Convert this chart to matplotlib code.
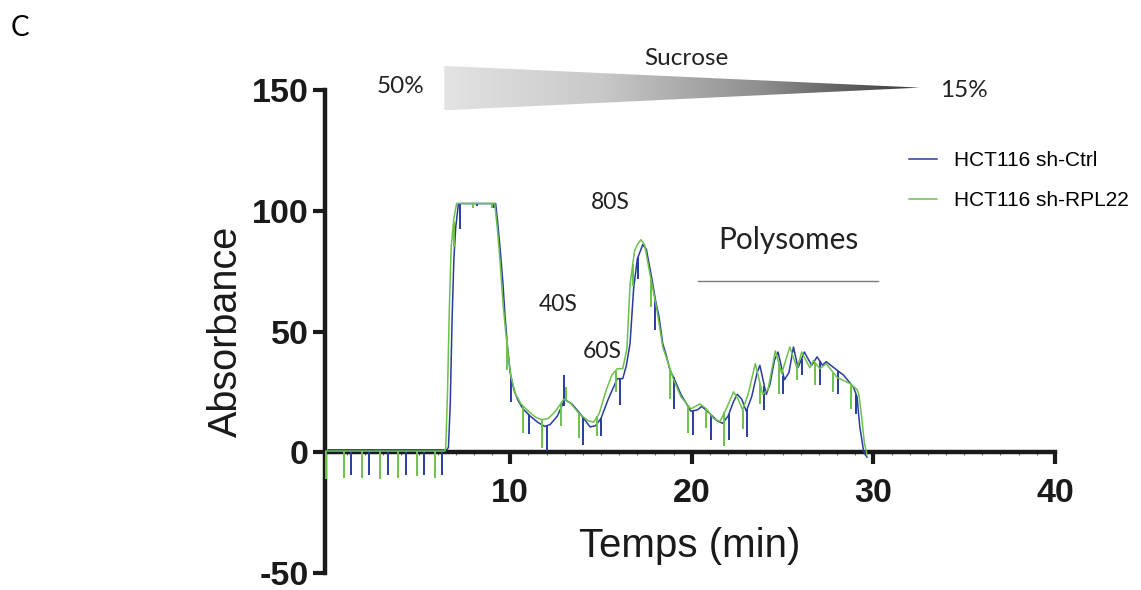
# Polysome profile: HCT116 sh-Ctrl vs sh-RPL22
import numpy as np
import matplotlib
matplotlib.use("Agg")
import matplotlib.pyplot as plt
from matplotlib.colors import LinearSegmentedColormap
from matplotlib.patches import Polygon

plt.rcParams['axes.unicode_minus'] = False

# --- data (time in min, absorbance) ---
ctrl_t = [0.0, 6.5, 6.6, 6.7, 6.8, 6.9, 7.0, 7.15, 9.2, 9.3, 9.45, 9.6, 9.72, 9.85,
          10.0, 10.2, 10.4, 10.7, 11.1, 11.5, 11.9, 12.2, 12.6, 13.0, 13.4, 13.85,
          14.4, 14.7, 15.0, 15.4, 15.9, 16.2, 16.4, 16.6, 16.8, 17.0, 17.3, 17.5,
          17.8, 18.0, 18.2, 18.4, 18.6, 18.8, 19.0, 19.4, 19.95, 20.3, 20.55, 21.0,
          21.4, 21.7, 22.0, 22.3, 22.5, 22.75, 23.0, 23.3, 23.6, 23.75, 24.1, 24.3,
          24.55, 24.75, 25.1, 25.35, 25.6, 25.85, 26.2, 26.6, 26.9, 27.2, 27.4, 28.0,
          28.35, 28.9, 29.1, 29.25, 29.45, 29.55, 29.65]
ctrl_v = [1, 1, 2, 20, 55, 80, 93, 103, 103, 96, 84, 70, 56, 44,
          33, 26, 22, 18, 15, 12.5, 10.7, 11.5, 15, 21.8, 20, 16,
          10.5, 11, 14, 22, 30.5, 30.5, 36, 45, 68, 80, 86, 84,
          72, 63, 56, 45, 40, 34, 31, 24, 17, 17.5, 19, 16,
          13, 12, 15, 21, 24, 22, 17, 23, 33, 36, 24, 28,
          38, 41.5, 30, 33, 43.6, 35, 41.5, 36, 39.5, 36, 37.5, 34,
          32, 27, 23, 10.7, 1, -1, -2]

rpl22_t = [-0.2, 6.4, 6.45, 6.55, 6.65, 6.75, 6.9, 7.05, 9.15, 9.3, 9.45, 9.6, 9.75,
           9.9, 10.05, 10.3, 10.6, 11.0, 11.4, 11.75, 12.1, 12.5, 12.95, 13.3, 13.8,
           14.3, 14.6, 14.9, 15.3, 15.6, 15.9, 16.2, 16.43, 16.6, 16.85, 17.0, 17.2,
           17.4, 17.7, 18.08, 18.4, 18.7, 19.0, 19.4, 19.95, 20.45, 20.8, 21.2, 21.55,
           21.9, 22.3, 22.55, 22.8, 23.1, 23.5, 23.9, 24.2, 24.6, 24.95, 25.4, 25.8,
           26.05, 26.5, 26.7, 27.05, 27.4, 28.0, 28.7, 29.1, 29.2, 29.35, 29.5, 29.65]
rpl22_v = [0.5, 0.5, 2, 25, 60, 85, 97, 103, 103, 92, 78, 62, 50,
           40, 31, 24, 20, 17, 14.5, 13.5, 14, 17, 22, 20.5, 16,
           13, 12.5, 16, 26, 32, 34.6, 34.6, 43, 69.5, 83.5, 86, 88,
           86, 73.7, 59, 43.6, 37, 30, 23, 18, 20, 18, 14, 12.7,
           18, 25, 22, 17.6, 24, 36.7, 24, 26, 42, 32.6, 43.6, 34.6,
           41.5, 35, 38, 34.6, 36.7, 31, 28.5, 26, 24, 15, 4, -1]

# detector spikes: time and end value of each vertical stroke
ctrl_spike_t = [1.25, 2.25, 3.25, 4.25, 5.25, 6.25, 7.25, 8.15, 9.1, 10.05, 11.05,
                12.0, 12.95, 12.95, 14.0, 15.0, 16.05, 17.05, 18.0, 19.0, 20.05,
                21.05, 22.05, 23.05, 24.0, 25.05, 26.05, 27.05, 28.05, 29.05]
ctrl_spike_end = [-9.5, -9.5, -9.5, -9.5, -9.5, -9.5, 92.5, 102, 101, 21, 7.4,
                  0.4, 32, 19, 2.9, 6.6, 19.7, 71.6, 50.6, 18, 7,
                  5, 5, 6.5, 17.5, 24, 32, 28, 24, 16]
rpl22_spike_t = [-0.13, 0.87, 1.86, 2.85, 3.84, 4.87, 5.87, 6.88, 7.95, 9.0, 9.8,
                 10.7, 11.75, 12.8, 13.07, 13.8, 14.8, 15.8, 16.75, 17.75, 18.8,
                 19.8, 20.8, 21.8, 22.8, 23.75, 24.8, 25.8, 26.8, 27.8, 28.75]
rpl22_spike_end = [-11, -10.5, -10.5, -11, -10.5, -10, -10.5, 85, 101, 101, 34,
                   7.8, 1.6, 10.7, 27, 5.8, 6.6, 25, 69, 60, 22,
                   8, 10, 2.5, 9.6, 20, 24, 30, 28, 25, 18]

labels = ['HCT116 sh-Ctrl', 'HCT116 sh-RPL22']
colors = ['#2a3c9c', '#6cc24a']
xticks = [10, 20, 30, 40]
yticks = [-50, 0, 50, 100, 150]

fig = plt.figure(figsize=(11.41, 5.90), dpi=100)
ax = fig.add_axes([0.2848, 0.0288, 0.6398, 0.8186])

series = [(ctrl_t, ctrl_v, ctrl_spike_t, ctrl_spike_end),
          (rpl22_t, rpl22_v, rpl22_spike_t, rpl22_spike_end)]
for (t, v, st, se), lab, col in zip(series, labels, colors):
    ax.plot(t, v, color=col, lw=1.1, label=lab, zorder=3)
    start = np.interp(st, t, v)
    ax.vlines(st, start, se, color=col, lw=1.4, zorder=3)

# sucrose gradient wedge
cmap = LinearSegmentedColormap.from_list('sucrose', ['#e3e3e3', '#c8c8c8', '#8e8e8e', '#383838'])
x0, x1, ybot, ytop, yapex = 6.37, 32.56, 141.6, 160.0, 151.0
im = ax.imshow(np.linspace(0, 1, 256).reshape(1, -1), cmap=cmap, aspect='auto',
               extent=(x0, x1, ybot, ytop), origin='lower', interpolation='bilinear', zorder=1)
wedge = Polygon([[x0, ytop], [x0, ybot], [x1, yapex]], closed=True,
                facecolor='none', edgecolor='none', clip_on=False)
ax.add_patch(wedge)
im.set_clip_path(wedge)
im.set_clip_box(fig.bbox)

ann = dict(family='Lato', color='#222222', ha='center', va='center')
ax.text(19.69, 163, 'Sucrose', fontsize=17.5, clip_on=False, **ann)
ax.text(3.94, 151.4, '50%', fontsize=17.5, clip_on=False, **ann)
ax.text(35.0, 149.8, '15%', fontsize=17.5, clip_on=False, **ann)
ax.text(15.5, 103.3, '80S', fontsize=16.5, **ann)
ax.text(12.64, 61.3, '40S', fontsize=16.5, **ann)
ax.text(15.06, 41.6, '60S', fontsize=16.5, **ann)
ax.text(25.3, 87.7, 'Polysomes', fontsize=21.5, **ann)
ax.plot([20.35, 30.25], [70.8, 70.8], color='#7a7a7a', lw=1.0)

fig.text(20 / 1141, 1 - 28 / 590, 'C', fontsize=20, family='Lato', va='center', ha='center')

# axes styling
ax.set_xlim(-0.2, 40)
ax.set_ylim(-50, 150)
ax.spines['top'].set_visible(False)
ax.spines['right'].set_visible(False)
ax.spines['bottom'].set_position(('data', 0))
for s in ['left', 'bottom']:
    ax.spines[s].set_linewidth(3.2)
    ax.spines[s].set_color('#1a1a1a')
ax.set_xticks(xticks)
ax.set_xticks(np.arange(1, 40), minor=True)
ax.set_yticks(yticks)
ax.tick_params(axis='both', which='major', length=8.5, width=3.0, color='#1a1a1a')
ax.tick_params(axis='x', which='major', pad=10)
ax.tick_params(axis='y', which='major', pad=3)
ax.tick_params(axis='x', which='minor', length=2, width=0.8, color='#666666')
for lbl in ax.get_xticklabels() + ax.get_yticklabels():
    lbl.set_fontfamily('Liberation Sans')
    lbl.set_fontweight('bold')
    lbl.set_fontsize(24.5)
    lbl.set_color('#1a1a1a')

ax.set_xlabel('Temps (min)', fontsize=29, family='Liberation Sans', color='#1a1a1a')
ax.xaxis.set_label_coords(0.5, 0.095)
ax.set_ylabel('Absorbance', fontsize=28.5, family='Liberation Sans', color='#1a1a1a')
ax.yaxis.set_label_coords(-0.11, 0.5)

leg = ax.legend(loc='upper left', bbox_to_anchor=(909 / 1141, 1 - 151 / 590),
                bbox_transform=fig.transFigure, frameon=False, borderpad=0,
                borderaxespad=0, handlelength=1.35, handletextpad=0.8,
                labelspacing=1.0, prop={'family': 'Liberation Sans', 'size': 15})

fig.savefig('out.png', dpi=100)
